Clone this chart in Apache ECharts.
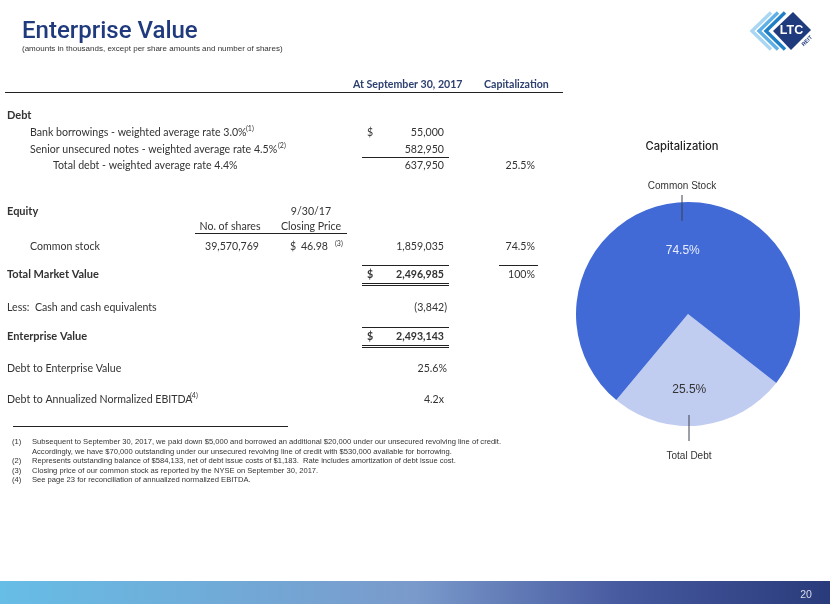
<!DOCTYPE html>
<html>
<head>
<meta charset="utf-8">
<style>html,body{margin:0;padding:0;background:#fff}#main{width:830px;height:604px}</style>
<script src="https://cdn.jsdelivr.net/npm/echarts@6/dist/echarts.min.js"></script>
</head>
<body>
<div id="main"></div>
<script>
// pie
const pieNames = ['Total Debt', 'Common Stock'];
const pieValues = [25.5, 74.5];

// table text
const debtLabels = ['Bank borrowings - weighted average rate 3.0%', 'Senior unsecured notes - weighted average rate 4.5%', 'Total debt - weighted average rate 4.4%'];
const debtValues = ['55,000', '582,950', '637,950'];
const debtShare = '25.5%';
const commonRow = ['Common stock', '39,570,769', '46.98', '1,859,035', '74.5%'];
const totalRow = ['Total Market Value', '2,496,985', '100%'];
const cashRow = ['Less:  Cash and cash equivalents', '(3,842)'];
const evRow = ['Enterprise Value', '2,493,143'];
const ratioLabels = ['Debt to Enterprise Value', 'Debt to Annualized Normalized EBITDA'];
const ratioValues = ['25.6%', '4.2x'];
const footMarks = ['(1)', '', '(2)', '(3)', '(4)'];
const footLines = [
  'Subsequent to September 30, 2017, we paid down $5,000 and borrowed an additional $20,000 under our unsecured revolving line of credit.',
  'Accordingly, we have $70,000 outstanding under our unsecured revolving line of credit with $530,000 available for borrowing.',
  'Represents outstanding balance of $584,133, net of debt issue costs of $1,183.  Rate includes amortization of debt issue cost.',
  'Closing price of our common stock as reported by the NYSE on September 30, 2017.',
  'See page 23 for reconciliation of annualized normalized EBITDA.'
];

const tableFont = 'Lato';
const headFont = '"Liberation Sans"';
const navy = '#2c3f6f';
const ink = '#333333';
const g = [];

function txt(x, y, s, o) {
  o = o || {};
  g.push({
    type: 'text', x: x, y: o.font ? y : y + 0.8, z: 10, silent: true,
    rotation: o.rotation || 0,
    style: {
      text: s, textAlign: o.align || 'left', textVerticalAlign: 'middle',
      fontFamily: o.font || tableFont, fontSize: o.size || 10.6,
      fontWeight: o.bold ? 'bold' : 'normal', fill: o.color || ink
    }
  });
}
function rule(x1, x2, y, color, w) {
  g.push({
    type: 'line', z: 10, silent: true,
    shape: { x1: x1, y1: y, x2: x2, y2: y },
    style: { stroke: color || '#222', lineWidth: w || 1 }
  });
}

// header row
txt(353, 84, 'At September 30, 2017', { bold: true, color: navy, size: 10.6 });
txt(484, 84, 'Capitalization', { bold: true, color: navy, size: 10.6 });
rule(5, 563, 92.5);

// debt
txt(7, 115, 'Debt', { bold: true, size: 11 });
txt(30, 132, debtLabels[0]);
txt(246, 128, '(1)', { size: 7 });
txt(367, 132, '$');
txt(444, 132, debtValues[0], { align: 'right' });
txt(30, 149, debtLabels[1]);
txt(278, 145, '(2)', { size: 7 });
txt(444, 149, debtValues[1], { align: 'right' });
rule(362, 449, 157.5);
txt(53, 165, debtLabels[2]);
txt(444, 165, debtValues[2], { align: 'right' });
txt(535, 165, debtShare, { align: 'right' });

// equity
txt(7, 211, 'Equity', { bold: true, size: 11 });
txt(311, 211, '9/30/17', { align: 'center' });
txt(230, 226, 'No. of shares', { align: 'center' });
txt(311, 226, 'Closing Price', { align: 'center' });
rule(195, 347, 233.5);
txt(30, 246, commonRow[0]);
txt(259, 246, commonRow[1], { align: 'right' });
txt(290, 246, '$');
txt(328, 246, commonRow[2], { align: 'right' });
txt(335, 243, '(3)', { size: 7 });
txt(444, 246, commonRow[3], { align: 'right' });
txt(535, 246, commonRow[4], { align: 'right' });

// totals
rule(362, 449, 265.5);
rule(499, 538, 265.5);
txt(7, 274, totalRow[0], { bold: true, size: 11 });
txt(367, 274, '$', { bold: true });
txt(444, 274, totalRow[1], { align: 'right', bold: true });
txt(535, 274, totalRow[2], { align: 'right' });
rule(362, 449, 283.5);
rule(362, 449, 285.5);
txt(7, 307, cashRow[0]);
txt(447, 307, cashRow[1], { align: 'right' });
rule(362, 449, 327.5);
txt(7, 336, evRow[0], { bold: true, size: 11 });
txt(367, 336, '$', { bold: true });
txt(444, 336, evRow[1], { align: 'right', bold: true });
rule(362, 449, 345.5);
rule(362, 449, 347.5);
txt(7, 368, ratioLabels[0]);
txt(447, 368, ratioValues[0], { align: 'right' });
txt(7, 399, ratioLabels[1]);
txt(190, 395, '(4)', { size: 7 });
txt(444, 399, ratioValues[1], { align: 'right' });

// footnotes
rule(13, 288, 426.5);
const footY = [442, 451.5, 461, 470.5, 480];
footLines.forEach(function (s, i) {
  txt(12, footY[i], footMarks[i], { font: headFont, size: 7.6 });
  txt(32, footY[i], s, { font: headFont, size: 7.6 });
});

// pie names and leader lines
txt(682, 186, pieNames[1], { font: headFont, size: 10, align: 'center' });
txt(689, 456, pieNames[0], { font: headFont, size: 10, align: 'center' });
g.push({ type: 'line', z: 10, silent: true, shape: { x1: 682, y1: 195, x2: 682, y2: 221 }, style: { stroke: '#3a4150', lineWidth: 1 } });
g.push({ type: 'line', z: 10, silent: true, shape: { x1: 689, y1: 415, x2: 689, y2: 441 }, style: { stroke: '#3a4150', lineWidth: 1 } });

// logo
[[752, '#a9d6f2'], [759, '#5fb0e6'], [766, '#1f7fc6']].forEach(function (c) {
  g.push({
    type: 'polyline', silent: true,
    shape: { points: [[c[0] + 19, 12.5], [c[0], 31], [c[0] + 19, 49.5]] },
    style: { stroke: c[1], lineWidth: 3.4, fill: 'none' }
  });
});
g.push({
  type: 'polygon', silent: true,
  shape: { points: [[793, 12], [811, 30], [791, 50], [773, 31]] },
  style: { fill: '#1f3a7d' }
});
txt(791.5, 31, 'LTC', { font: headFont, size: 12.5, bold: true, color: '#fff', align: 'center' });
txt(807, 41, 'REIT', { font: headFont, size: 5.5, bold: true, color: '#1f3a7d', align: 'center', rotation: Math.PI / 4 });

// footer bar
g.push({
  type: 'rect', silent: true, shape: { x: 0, y: 581, width: 830, height: 23 },
  style: {
    fill: new echarts.graphic.LinearGradient(0, 0, 1, 0, [
      { offset: 0, color: '#66bde6' },
      { offset: 0.5, color: '#7a9acb' },
      { offset: 0.75, color: '#47599f' },
      { offset: 1, color: '#293b7a' }
    ])
  }
});
txt(806, 595, '20', { font: headFont, size: 10.5, color: '#d8deea', align: 'center' });

const pieColors = ['#c0cdf0', '#426ad6'];
const labelColors = ['#333333', '#e8eefb'];
const labelOffsets = [[-5, 17], [1, -5]];

const chart = echarts.init(document.getElementById('main'), null, { renderer: 'canvas' });
chart.setOption({
  animation: false,
  backgroundColor: '#fff',
  title: [
    {
      text: 'Enterprise Value',
      subtext: '(amounts in thousands, except per share amounts and number of shares)',
      left: 17, top: 15, itemGap: 1,
      textStyle: { fontFamily: 'Roboto', fontSize: 24, fontWeight: 500, color: '#1f3a7d' },
      subtextStyle: { fontFamily: headFont, fontSize: 8, color: '#333' }
    },
    {
      text: 'Capitalization',
      left: 677, top: 136, textAlign: 'center',
      textStyle: { fontFamily: 'Inter', fontSize: 11.2, fontWeight: 500, color: '#222' }
    }
  ],
  series: [{
    type: 'pie',
    center: [688, 314],
    radius: [0, 112],
    startAngle: 322,
    silent: true,
    labelLine: { show: false },
    data: pieNames.map(function (n, i) {
      return {
        name: n, value: pieValues[i],
        itemStyle: { color: pieColors[i] },
        label: {
          show: true, position: 'inside',
          formatter: '{c}%', offset: labelOffsets[i],
          fontFamily: headFont, fontSize: 12, color: labelColors[i]
        }
      };
    })
  }],
  graphic: g
});
</script>
</body>
</html>
